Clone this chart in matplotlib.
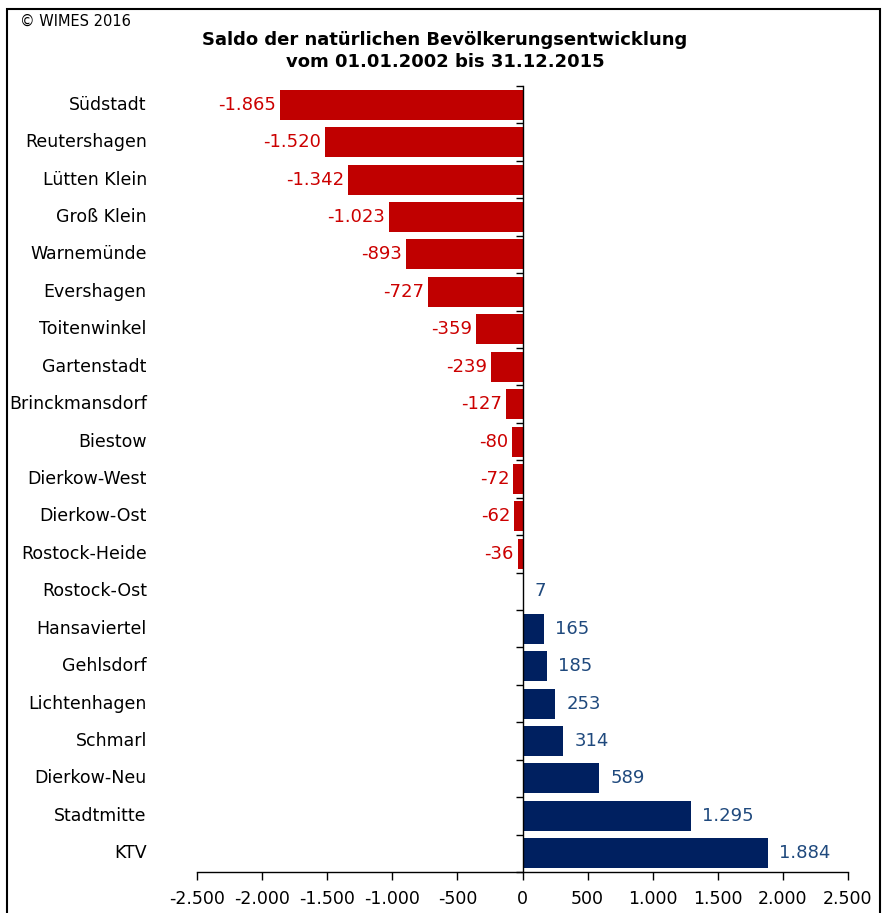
import numpy as np
import matplotlib.pyplot as plt
from matplotlib.patches import Rectangle

districts = ["Südstadt", "Reutershagen", "Lütten Klein", "Groß Klein", "Warnemünde",
             "Evershagen", "Toitenwinkel", "Gartenstadt", "Brinckmansdorf", "Biestow",
             "Dierkow-West", "Dierkow-Ost", "Rostock-Heide", "Rostock-Ost", "Hansaviertel",
             "Gehlsdorf", "Lichtenhagen", "Schmarl", "Dierkow-Neu", "Stadtmitte", "KTV"]
saldo = [-1865, -1520, -1342, -1023, -893, -727, -359, -239, -127, -80,
         -72, -62, -36, 7, 165, 185, 253, 314, 589, 1295, 1884]
xticks = [-2500, -2000, -1500, -1000, -500, 0, 500, 1000, 1500, 2000, 2500]

def fmt(v):
    return f"{v:,}".replace(",", ".")

red_bar, blue_bar = "#C00000", "#002060"
red_txt, blue_txt = "#CC0000", "#1F497D"

fig = plt.figure(figsize=(8.83, 9.13), dpi=100)
ax = fig.add_axes([197/883, 1-872/913, (848-197)/883, (872-86)/913])

y = np.arange(len(districts))
cols = [red_bar if v < 0 else blue_bar for v in saldo]
ax.barh(y, saldo, height=0.8, color=cols)

ax.set_ylim(len(districts)-0.5, -0.5)
ax.set_xlim(-2500, 2500)
ax.set_xticks(xticks)
ax.set_xticklabels([fmt(v) for v in xticks], fontsize=12.5)
ax.tick_params(axis="x", direction="out", length=6, width=1, pad=7)

for s in ["top", "right"]:
    ax.spines[s].set_visible(False)
ax.spines["left"].set_position(("data", 0))
ax.spines["bottom"].set_linewidth(1)
ax.spines["left"].set_linewidth(1)
ax.set_yticks([])
ax.set_yticks(np.arange(-0.5, len(districts)), minor=True)
ax.tick_params(axis="y", which="minor", direction="out", length=5, width=1,
               left=True, right=False)

for yi, (name, v) in enumerate(zip(districts, saldo)):
    ax.text(-0.077, yi, name, transform=ax.get_yaxis_transform(),
            ha="right", va="center", fontsize=12.5)
    if v < 0:
        ax.text(v - 30, yi, fmt(v), ha="right", va="center", fontsize=13, color=red_txt)
    else:
        ax.text(v + 85, yi, fmt(v), ha="left", va="center", fontsize=13, color=blue_txt)

fig.text(445/883, 1-40/913, "Saldo der natürlichen Bevölkerungsentwicklung",
         ha="center", va="center", fontsize=13, fontweight="bold")
fig.text(445/883, 1-62/913, "vom 01.01.2002 bis 31.12.2015",
         ha="center", va="center", fontsize=13, fontweight="bold")
fig.text(20/883, 1-21/913, "© WIMES 2016", ha="left", va="center", fontsize=10.5)

fig.patches.append(Rectangle((7/883, -0.01), (880-7)/883, 1-9/913+0.01,
                             transform=fig.transFigure, fill=False,
                             edgecolor="black", linewidth=1.5))

fig.savefig("out.png", dpi=100)
